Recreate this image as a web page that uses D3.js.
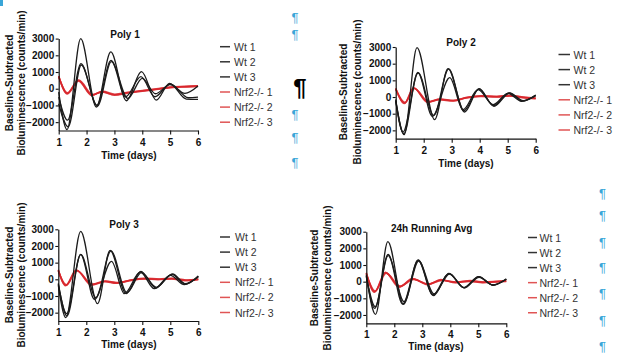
<!DOCTYPE html>
<html>
<head>
<meta charset="utf-8">
<script src="https://cdn.jsdelivr.net/npm/d3@7"></script>
<style>
  html, body { margin: 0; padding: 0; background: #fff; }
  svg { display: block; font-family: "Liberation Sans", Arial, sans-serif; }
</style>
</head>
<body>
<div id="chart"></div>
<script>
// ---- data (time in days, baseline-subtracted counts/min) ----
const panelTitles = ["Poly 1", "Poly 2", "Poly 3", "24h Running Avg"];
const seriesNames = ["Wt 1", "Wt 2", "Wt 3", "Nrf2-/- 1", "Nrf2-/- 2", "Nrf2-/- 3"];
const xTicks = [1, 2, 3, 4, 5, 6];
const yTicks = [-2000, -1000, 0, 1000, 2000, 3000];
const xDomain = [1, 6];
const yDomain = [-2500, 3000];

// Poly 1
const poly1Wt1 = [[1.0, -200], [1.30, -2450], [1.79, 3000], [2.35, -1100], [2.87, 2200], [3.43, -720], [3.97, 1020], [4.50, -680], [4.98, 320], [5.58, -620], [6.0, -640]];
const poly1Wt2 = [[1.0, -500], [1.32, -1880], [1.80, 1500], [2.37, -980], [2.88, 1700], [3.40, -480], [3.95, 720], [4.45, -480], [4.99, 240], [5.53, -280], [6.0, 160]];
const poly1Wt3 = [[1.0, -900], [1.34, -2280], [1.81, 1420], [2.39, -1040], [2.89, 1620], [3.48, -580], [4.00, 620], [4.47, -300], [5.02, 280], [5.65, -540], [6.0, -500]];
const poly1Ko1 = [[1.0, 760], [1.30, -280], [1.70, 500], [2.20, -380], [2.55, -170], [3.00, -360], [3.50, -230], [4.00, -130], [4.50, -30], [5.00, 80], [5.50, 120], [6.0, 160]];
const poly1Ko2 = [[1.0, 700], [1.32, -250], [1.72, 520], [2.22, -350], [2.58, -160], [3.02, -330], [3.50, -210], [4.00, -110], [4.50, -10], [5.00, 100], [5.50, 140], [6.0, 170]];
const poly1Ko3 = [[1.0, 740], [1.31, -320], [1.71, 470], [2.18, -400], [2.56, -190], [3.00, -390], [3.50, -250], [4.00, -150], [4.50, -50], [5.00, 60], [5.50, 110], [6.0, 140]];

// Poly 2
const poly2Wt1 = [[1.0, -150], [1.30, -2260], [1.76, 2960], [2.39, -1360], [2.87, 1700], [3.46, -900], [3.98, 500], [4.51, -560], [5.07, 240], [5.55, -220], [6.0, 80]];
const poly2Wt2 = [[1.0, -250], [1.26, -2100], [1.80, 1440], [2.31, -1160], [2.93, 1160], [3.40, -760], [3.94, 440], [4.48, -460], [5.01, 220], [5.49, -260], [6.0, 120]];
const poly2Wt3 = [[1.0, -200], [1.29, -2200], [1.79, 1480], [2.36, -1100], [2.89, 1680], [3.44, -820], [3.97, 480], [4.50, -520], [5.04, 250], [5.53, -240], [6.0, 100]];
const poly2Ko1 = [[1.0, 500], [1.32, -360], [1.65, 540], [2.15, -300], [2.57, -140], [3.05, -220], [3.52, -40], [4.06, 60], [4.60, 20], [5.07, 80], [5.55, -20], [6.0, -80]];
const poly2Ko2 = [[1.0, 460], [1.34, -330], [1.67, 510], [2.17, -270], [2.59, -120], [3.07, -200], [3.54, -20], [4.08, 80], [4.62, 40], [5.09, 100], [5.57, 0], [6.0, -60]];
const poly2Ko3 = [[1.0, 530], [1.31, -390], [1.64, 560], [2.14, -330], [2.56, -160], [3.04, -240], [3.50, -60], [4.04, 40], [4.58, 0], [5.05, 60], [5.53, -40], [6.0, -100]];

// Poly 3
const poly3Wt1 = [[1.0, -360], [1.27, -2300], [1.80, 2880], [2.40, -1460], [2.85, 1740], [3.42, -860], [3.95, 480], [4.48, -520], [5.05, 300], [5.52, -260], [6.0, 140]];
const poly3Wt2 = [[1.0, -300], [1.30, -2060], [1.80, 1480], [2.29, -1200], [2.90, 1080], [3.36, -860], [3.93, 440], [4.43, -560], [5.00, 240], [5.50, -320], [6.0, 200]];
const poly3Wt3 = [[1.0, -250], [1.31, -2200], [1.80, 1500], [2.34, -1100], [2.88, 1700], [3.45, -800], [3.97, 400], [4.50, -480], [5.08, 320], [5.55, -280], [6.0, 180]];
const poly3Ko1 = [[1.0, 540], [1.27, -360], [1.65, 540], [2.19, -320], [2.67, -120], [3.09, -220], [3.57, -60], [4.10, 40], [4.58, 0], [5.06, 40], [5.54, -60], [6.0, 0]];
const poly3Ko2 = [[1.0, 500], [1.29, -330], [1.67, 510], [2.21, -290], [2.69, -100], [3.11, -200], [3.59, -40], [4.12, 60], [4.60, 20], [5.08, 60], [5.56, -40], [6.0, 20]];
const poly3Ko3 = [[1.0, 570], [1.26, -390], [1.64, 560], [2.18, -350], [2.65, -140], [3.07, -240], [3.55, -80], [4.08, 20], [4.56, -20], [5.04, 20], [5.52, -80], [6.0, -20]];

// 24h Running Avg
const avgWt1 = [[1.0, 400], [1.33, -1960], [1.77, 2400], [2.33, -1360], [2.85, 1300], [3.38, -800], [3.95, 500], [4.49, -360], [5.02, 300], [5.52, -200], [6.0, 160]];
const avgWt2 = [[1.0, 300], [1.30, -1600], [1.78, 1640], [2.30, -1340], [2.86, 1280], [3.40, -840], [3.95, 500], [4.47, -360], [5.01, 300], [5.51, -200], [6.0, 160]];
const avgWt3 = [[1.0, 350], [1.32, -1500], [1.78, 1560], [2.35, -1200], [2.87, 1240], [3.42, -740], [3.97, 460], [4.50, -380], [5.03, 260], [5.53, -220], [6.0, 140]];
const avgKo1 = [[1.0, 500], [1.30, -600], [1.69, 540], [2.19, -300], [2.67, 160], [3.20, -160], [3.68, 100], [4.21, -40], [4.69, 40], [5.17, -40], [5.64, 0], [6.0, 40]];
const avgKo2 = [[1.0, 460], [1.32, -560], [1.71, 510], [2.21, -270], [2.69, 140], [3.22, -140], [3.70, 80], [4.23, -20], [4.71, 60], [5.19, -20], [5.66, 20], [6.0, 60]];
const avgKo3 = [[1.0, 540], [1.29, -640], [1.68, 560], [2.17, -330], [2.65, 180], [3.18, -180], [3.66, 120], [4.19, -60], [4.67, 20], [5.15, -60], [5.62, -20], [6.0, 20]];

const panelSeries = [
  [poly1Wt1, poly1Wt2, poly1Wt3, poly1Ko1, poly1Ko2, poly1Ko3],
  [poly2Wt1, poly2Wt2, poly2Wt3, poly2Ko1, poly2Ko2, poly2Ko3],
  [poly3Wt1, poly3Wt2, poly3Wt3, poly3Ko1, poly3Ko2, poly3Ko3],
  [avgWt1, avgWt2, avgWt3, avgKo1, avgKo2, avgKo3]
];

// ---- layout (pixel placement of each panel in the 617x363 page) ----
const W = 617, H = 363;
const layout = [
  { x0: 58.7, x1: 198, yTop: 38.6, yBot: 130.5, titleX: 125, titleY: 37.5, lab1: 9.5, lab2: 21.5, labCy: 83,
    legL0: 220, legL1: 230, legT: 234, legY0: 46.7, legStep: 15.1, xLabX: 129, xLabY: 158.5 },
  { x0: 395.7, x1: 535.7, yTop: 47, yBot: 138.7, titleX: 461, titleY: 45.5, lab1: 343, lab2: 357, labCy: 92,
    legL0: 558.5, legL1: 570, legT: 573.5, legY0: 54.5, legStep: 15.1, xLabX: 466, xLabY: 167 },
  { x0: 58.3, x1: 198.3, yTop: 229.3, yBot: 321, titleX: 124, titleY: 228, lab1: 9.5, lab2: 21.7, labCy: 275,
    legL0: 220, legL1: 230, legT: 235, legY0: 237, legStep: 15.1, xLabX: 129, xLabY: 348 },
  { x0: 366.3, x1: 506.3, yTop: 231.7, yBot: 323.3, titleX: 431.7, titleY: 232, lab1: 314.5, lab2: 327.5, labCy: 278,
    legL0: 528, legL1: 537, legT: 539.5, legY0: 237.5, legStep: 15.05, xLabX: 436, xLabY: 350 }
];

const wtColor = '#1c1c1c';
const koColor = '#d8262c';
const markColor = '#3aa6d8';

const svg = d3.select('#chart')
  .append('svg')
  .attr('width', W)
  .attr('height', H)
  .style('background', '#fff');

panelTitles.forEach((title, p) => {
  const L = layout[p];
  const g = svg.append('g');

  const x = d3.scaleLinear().domain(xDomain).range([L.x0, L.x1]);
  const y = d3.scaleLinear().domain(yDomain).range([L.yBot, L.yTop]);

  const line = d3.line()
    .x(d => x(d[0]))
    .y(d => y(d[1]))
    .curve(d3.curveMonotoneX);

  // Nrf2 knockouts first (red, underneath), then wild types
  const order = [3, 4, 5, 0, 1, 2];
  order.forEach(i => {
    const isWt = i < 3;
    g.append('path')
      .datum(panelSeries[p][i])
      .attr('d', line)
      .attr('fill', 'none')
      .attr('stroke', isWt ? wtColor : koColor)
      .attr('stroke-opacity', isWt ? 1 : 0.85)
      .attr('stroke-width', isWt ? 1.3 : 1.6);
  });

  // axes
  const xAxis = g.append('g')
    .attr('transform', `translate(0,${L.yBot})`)
    .call(d3.axisBottom(x).tickValues(xTicks).tickFormat(d3.format('d'))
      .tickSize(4).tickPadding(4).tickSizeOuter(0));
  const yAxis = g.append('g')
    .attr('transform', `translate(${L.x0},0)`)
    .call(d3.axisLeft(y).tickValues(yTicks).tickFormat(d3.format('d'))
      .tickSize(3).tickPadding(1.5).tickSizeOuter(0));

  [xAxis, yAxis].forEach(a => {
    a.select('.domain').attr('stroke', '#111').attr('stroke-width', 1.2);
    a.selectAll('.tick line').attr('stroke', '#111').attr('stroke-width', 1.1);
    a.selectAll('text')
      .attr('fill', '#111')
      .style('font-size', '10px')
      .style('font-weight', 'bold')
      .style('font-family', '"Liberation Sans", Arial, sans-serif');
  });

  // title
  g.append('text')
    .attr('x', L.titleX)
    .attr('y', L.titleY)
    .attr('text-anchor', 'middle')
    .style('font-size', '10px')
    .style('font-weight', 'bold')
    .attr('fill', '#111')
    .text(title);

  // x label
  g.append('text')
    .attr('x', L.xLabX)
    .attr('y', L.xLabY)
    .attr('text-anchor', 'middle')
    .style('font-size', '10px')
    .style('font-weight', 'bold')
    .attr('fill', '#111')
    .text('Time (days)');

  // y label (two lines)
  [['Baseline-Subtracted', L.lab1], ['Bioluminescence (counts/min)', L.lab2]].forEach(([t, lx]) => {
    g.append('text')
      .attr('transform', `translate(${lx},${L.labCy}) rotate(-90)`)
      .attr('text-anchor', 'middle')
      .attr('dominant-baseline', 'central')
      .style('font-size', '10px')
      .style('font-weight', 'bold')
      .attr('fill', '#111')
      .text(t);
  });

  // legend
  seriesNames.forEach((name, i) => {
    const ly = L.legY0 + i * L.legStep;
    g.append('line')
      .attr('x1', L.legL0).attr('x2', L.legL1)
      .attr('y1', ly).attr('y2', ly)
      .attr('stroke', i < 3 ? '#333' : '#e05555')
      .attr('stroke-width', 1.5);
    g.append('text')
      .attr('x', L.legT)
      .attr('y', ly)
      .attr('dominant-baseline', 'central')
      .style('font-size', '10.5px')
      .attr('fill', '#333')
      .text(name);
  });
});

// paragraph marks from the surrounding document
const marks = [
  { x: 295, y: 17.5, big: false }, { x: 295, y: 34, big: false }, { x: 300, y: 87, big: true },
  { x: 295, y: 114, big: false }, { x: 295, y: 137, big: false }, { x: 295, y: 162.5, big: false },
  { x: 602.5, y: 193, big: false }, { x: 602.5, y: 215, big: false }, { x: 602.5, y: 242.5, big: false },
  { x: 602.5, y: 267, big: false }, { x: 602.5, y: 293.3, big: false }, { x: 602.5, y: 320, big: false },
  { x: 602.5, y: 346.7, big: false }
];
svg.selectAll('.pilcrow')
  .data(marks)
  .join('text')
  .attr('class', 'pilcrow')
  .attr('x', d => d.x)
  .attr('y', d => d.y)
  .attr('text-anchor', 'middle')
  .attr('dominant-baseline', 'central')
  .style('font-size', d => d.big ? '24px' : '13px')
  .style('font-weight', d => d.big ? 'bold' : 'normal')
  .attr('fill', d => d.big ? '#000' : markColor)
  .text('¶');

svg.append('rect')
  .attr('x', 0).attr('y', 0)
  .attr('width', 3).attr('height', 6)
  .attr('fill', markColor);
</script>
</body>
</html>
